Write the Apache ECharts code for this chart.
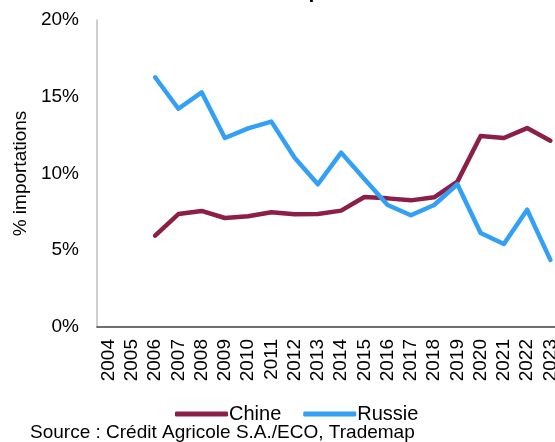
<!DOCTYPE html>
<html>
<head>
<meta charset="utf-8">
<script src="https://cdn.jsdelivr.net/npm/echarts@6/dist/echarts.min.js"></script>
<style>html,body{margin:0;padding:0;background:#fff;}#c{width:555px;height:442px;}</style>
</head>
<body>
<div id="c"></div>
<script>
const years = ['2004','2005','2006','2007','2008','2009','2010','2011','2012','2013','2014','2015','2016','2017','2018','2019','2020','2021','2022','2023'];
const chine = [null,null,5.95,7.36,7.56,7.1,7.21,7.47,7.34,7.36,7.58,8.47,8.38,8.25,8.45,9.47,12.44,12.31,12.96,12.14];
const russie = [null,null,16.27,14.22,15.29,12.31,12.94,13.38,11.03,9.30,11.36,9.64,7.95,7.28,7.95,9.30,6.12,5.41,7.64,4.37];
const yTicks = [0,5,10,15,20];
const titleText = 'Charbon : importations';
const sourceText = 'Source : Crédit Agricole S.A./ECO, Trademap';

const font = 'Liberation Sans, Arial, sans-serif';
const chart = echarts.init(document.getElementById('c'));
chart.setOption({
  animation: false,
  backgroundColor: '#fff',
  title: {
    text: titleText, left: 290, textAlign: 'center', top: -23,
    textStyle: {fontFamily: font, fontSize: 21, fontWeight: 'bold', color: '#000'}
  },
  grid: {left: 97, top: 20, width: 465, height: 307, outerBoundsMode: 'none'},
  legend: {
    data: ['Chine','Russie'], left: 170, top: 399, icon: 'roundRect',
    itemWidth: 53, itemHeight: 5, itemGap: 22,
    textStyle: {fontFamily: font, fontSize: 20, color: '#000', padding: [0,0,0,-4]}
  },
  xAxis: {
    type: 'category', data: years, boundaryGap: true,
    axisLine: {lineStyle: {color: '#404040', width: 1.5}},
    axisTick: {show: false},
    axisLabel: {rotate: 90, fontFamily: font, fontSize: 19, color: '#000', margin: 12, interval: 0}
  },
  yAxis: {
    type: 'value', min: 0, max: 20, interval: 5,
    name: '% importations', nameLocation: 'middle', nameGap: 67,
    nameTextStyle: {fontFamily: font, fontSize: 19, color: '#000'},
    axisLine: {show: true, lineStyle: {color: '#bfbfbf', width: 1.5}},
    axisTick: {show: false},
    splitLine: {show: false},
    axisLabel: {fontFamily: font, fontSize: 19, color: '#000', margin: 18,
      formatter: v => yTicks.includes(v) ? v + '%' : ''}
  },
  series: [
    {name: 'Chine', type: 'line', data: chine, symbol: 'none', connectNulls: false,
     itemStyle: {color: '#8b1f47'},
     lineStyle: {color: '#8b1f47', width: 4.5, cap: 'round', join: 'round'}},
    {name: 'Russie', type: 'line', data: russie, symbol: 'none',
     itemStyle: {color: '#33a0f5'},
     lineStyle: {color: '#33a0f5', width: 4.5, cap: 'round', join: 'round'}}
  ],
  graphic: [{
    type: 'text', left: 30, top: 423,
    style: {text: sourceText, fontFamily: font, fontSize: 19, fill: '#000'}
  }]
});
</script>
</body>
</html>
